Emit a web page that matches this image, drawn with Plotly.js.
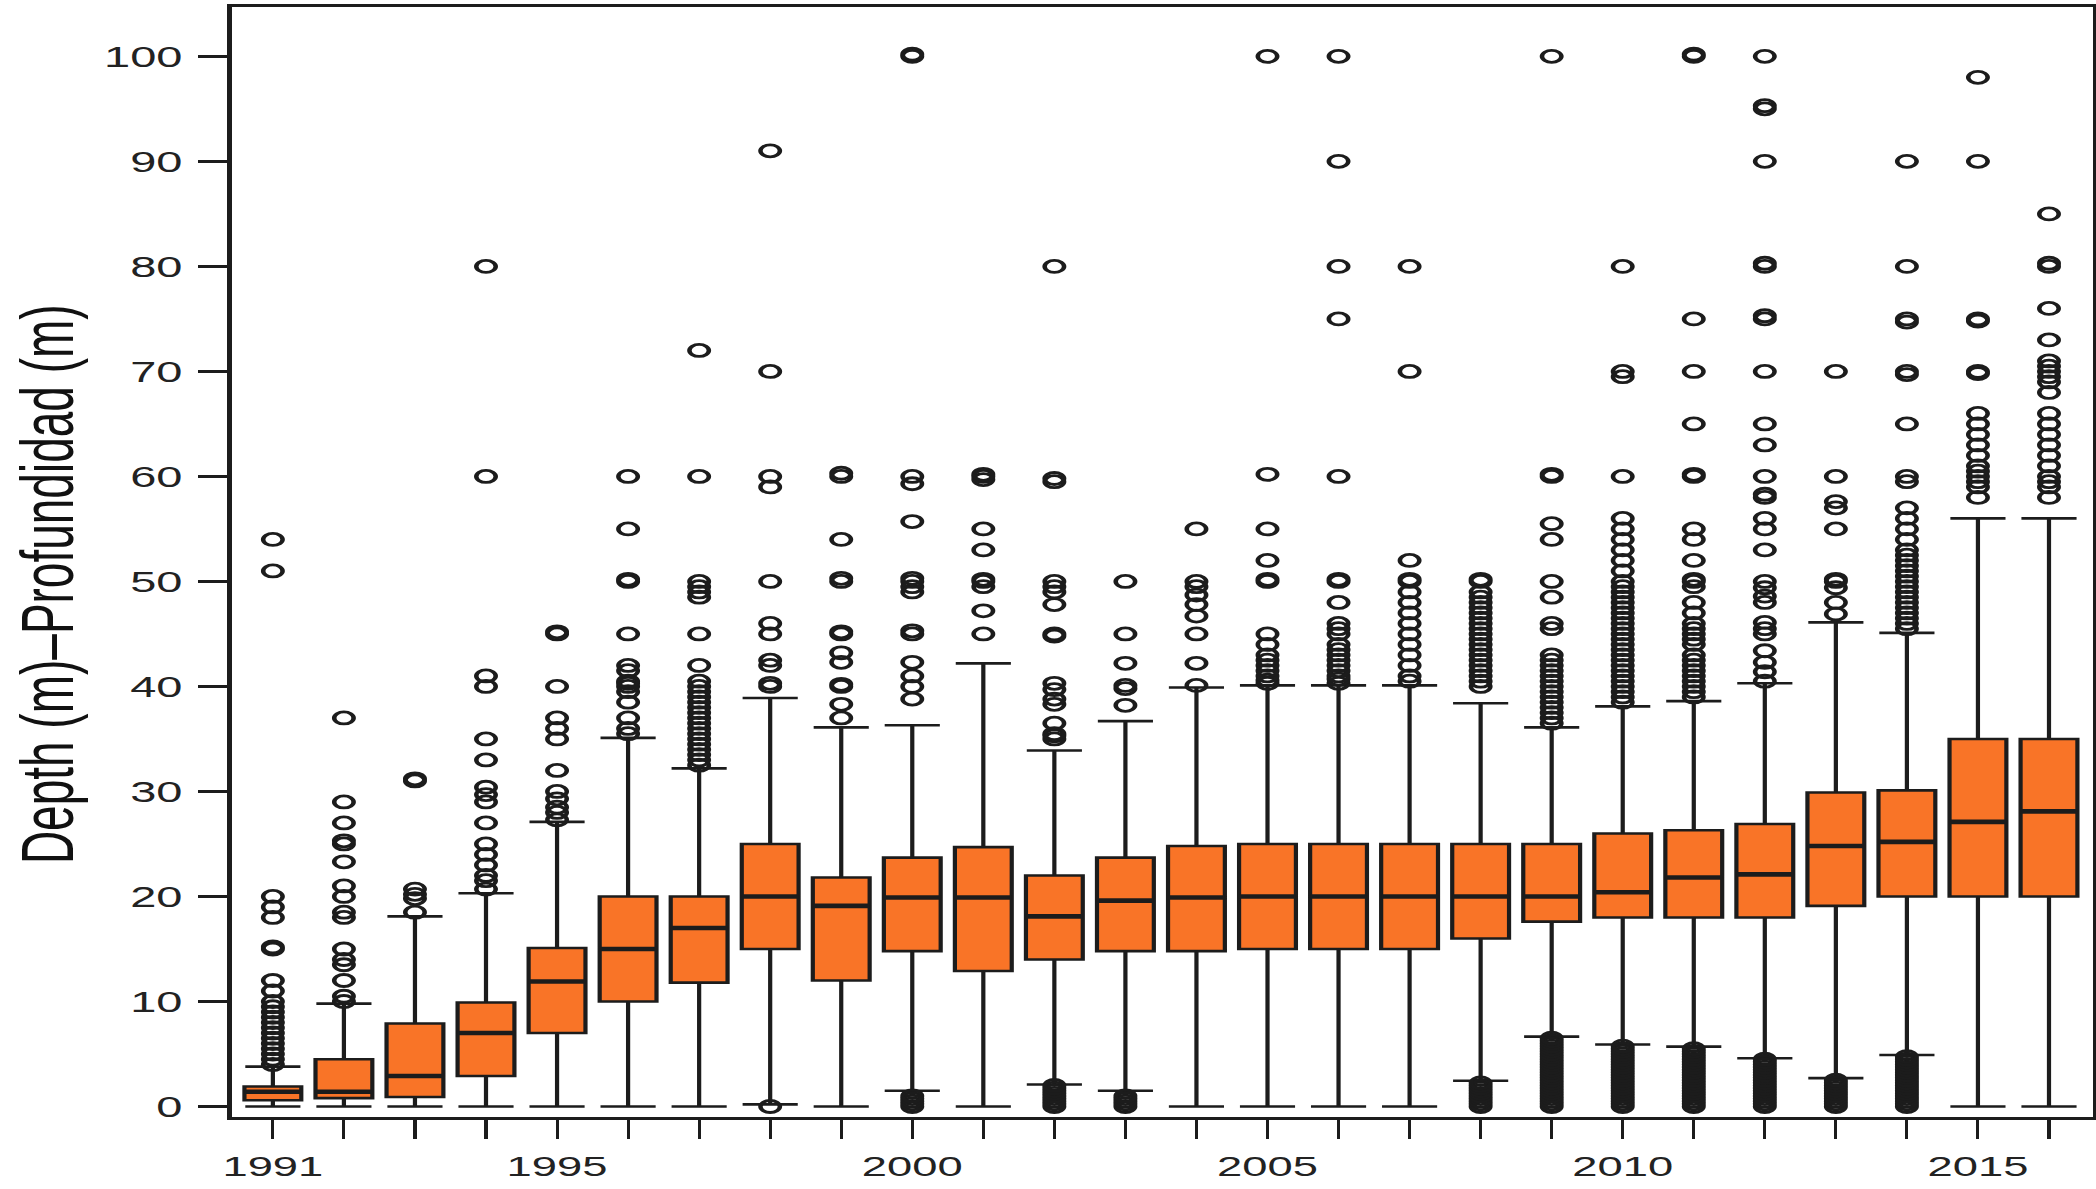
<!DOCTYPE html>
<html>
<head>
<meta charset="utf-8">
<script src="https://cdn.plot.ly/plotly-3.0.1.min.js"></script>
<style>
  html, body { margin: 0; padding: 0; background: #ffffff; overflow: hidden; }
  #wrap { width: 1294px; height: 1189px; transform: scaleX(1.62); transform-origin: 0 0; }
</style>
</head>
<body>
<div id="wrap"><div id="chart"></div></div>
<script>
// ---------------- data ----------------
const years = [1991,1992,1993,1994,1995,1996,1997,1998,1999,2000,2001,2002,2003,2004,2005,2006,2007,2008,2009,2010,2011,2012,2013,2014,2015,2016];
const tickLabels = ["1991","","","","1995","","","","","2000","","","","","2005","","","","","2010","","","","","2015",""];
const yTicks = [0,10,20,30,40,50,60,70,80,90,100];

const q1 =         [0.6, 0.8, 0.9, 2.9, 7.0, 10, 11.8, 15, 12, 14.8, 12.9, 14, 14.8, 14.8, 15, 15, 15, 16, 17.6, 18, 18, 18, 19.1, 20, 20, 20];
const medians =    [1.4, 1.4, 2.9, 7.0, 11.9, 15, 17, 20, 19.1, 19.9, 19.9, 18.1, 19.6, 19.9, 20, 20, 20, 20, 20, 20.4, 21.8, 22.1, 24.8, 25.2, 27.1, 28.1];
const q3 =         [1.9, 4.5, 7.9, 9.9, 15.1, 20, 20, 25, 21.8, 23.7, 24.7, 22, 23.7, 24.8, 25, 25, 25, 25, 25, 26, 26.3, 26.9, 29.9, 30.1, 35, 35];
const lowerFence = [0, 0, 0, 0, 0, 0, 0, 0.2, 0, 1.5, 0, 2.1, 1.5, 0, 0, 0, 0, 2.45, 6.65, 5.9, 5.7, 4.6, 2.7, 4.9, 0, 0];
const upperFence = [3.8, 9.8, 18.1, 20.3, 27.1, 35.1, 32.2, 38.9, 36.1, 36.3, 42.2, 33.9, 36.7, 39.9, 40.1, 40.1, 40.1, 38.4, 36.1, 38.1, 38.6, 40.3, 46.1, 45.1, 56, 56];

// outliers per year (same order as years)
const outliers = [
  [4, 4.5, 5, 5.5, 6, 6.5, 7, 7.5, 8, 8.5, 9, 9.5, 10, 11, 12, 15, 15.2, 18, 19, 20, 51, 54],
  [10, 10.5, 12, 13.5, 14, 15, 18, 18.5, 20, 21, 23.3, 25, 25.3, 27, 29, 37],
  [18.5, 19.8, 20.2, 20.7, 31, 31.2],
  [20.7, 21.5, 22, 23, 24, 25, 27, 29, 29.7, 30.4, 33, 35, 40, 41, 60, 80],
  [27.3, 28, 28.5, 29.3, 30, 32, 35, 36, 37, 40, 45, 45.2],
  [35.5, 36, 37, 38.5, 39.5, 40, 40.3, 40.5, 41.5, 42, 45, 50, 50.2, 55, 60],
  [32.5, 33, 33.5, 34, 34.5, 35, 35.5, 36, 36.5, 37, 37.5, 38, 38.5, 39, 39.5, 40, 40.5, 42, 45, 48.5, 49, 49.5, 50, 60, 72],
  [0, 40, 40.3, 42, 42.5, 45, 46, 50, 59, 60, 70, 91],
  [37, 38.3, 40, 40.2, 42.3, 43.2, 45, 45.2, 50, 50.3, 54, 60, 60.3],
  [0, 0.25, 0.5, 0.75, 1, 38.8, 40, 41, 42.3, 45, 45.3, 49, 49.5, 50, 50.3, 55.7, 59.3, 60, 100, 100.2],
  [45, 47.2, 49.5, 50, 50.2, 53, 55, 59.7, 60, 60.2],
  [0, 0.25, 0.5, 0.75, 1, 1.25, 1.5, 1.75, 2, 35, 35.3, 35.5, 36.5, 38.3, 38.8, 39.7, 40.3, 44.8, 45, 47.8, 49, 49.5, 50, 59.5, 59.8, 80],
  [0, 0.25, 0.5, 0.75, 1, 38.2, 39.8, 40.1, 42.2, 45, 50],
  [40.1, 42.2, 45, 46.7, 47.8, 48.7, 49.5, 50, 55],
  [40.3, 40.6, 41, 41.5, 42, 42.5, 43, 44, 45, 50, 50.2, 52, 55, 60.2, 100],
  [40.3, 40.7, 41, 41.5, 42, 42.5, 43, 43.5, 44, 45, 45.5, 46, 48, 50, 50.2, 60, 75, 80, 90, 100],
  [40.5, 41, 42, 43, 44, 45, 46, 47, 48, 49, 50, 50.2, 52, 70, 80],
  [0, 0.25, 0.5, 0.75, 1, 1.25, 1.5, 1.75, 2, 2.25, 40, 40.5, 41, 41.5, 42, 42.5, 43, 43.5, 44, 44.5, 45, 45.5, 46, 46.5, 47, 47.5, 48, 48.5, 49, 50, 50.2],
  [0, 0.25, 0.5, 0.75, 1, 1.25, 1.5, 1.75, 2, 2.25, 2.5, 2.75, 3, 3.25, 3.5, 3.75, 4, 4.25, 4.5, 4.75, 5, 5.25, 5.5, 5.75, 6, 6.25, 6.5, 36.5, 37, 37.5, 38, 38.5, 39, 39.5, 40, 40.5, 41, 41.5, 42, 42.5, 43, 45.5, 46, 48.5, 50, 54, 55.5, 60, 60.2, 100],
  [0, 0.25, 0.5, 0.75, 1, 1.25, 1.5, 1.75, 2, 2.25, 2.5, 2.75, 3, 3.25, 3.5, 3.75, 4, 4.25, 4.5, 4.75, 5, 5.25, 5.5, 5.75, 38.5, 39, 39.5, 40, 40.5, 41, 41.5, 42, 42.5, 43, 43.5, 44, 44.5, 45, 45.5, 46, 46.5, 47, 47.5, 48, 48.5, 49, 49.5, 50, 51, 52, 53, 54, 55, 56, 60, 69.5, 70, 80],
  [0, 0.25, 0.5, 0.75, 1, 1.25, 1.5, 1.75, 2, 2.25, 2.5, 2.75, 3, 3.25, 3.5, 3.75, 4, 4.25, 4.5, 4.75, 5, 5.25, 5.5, 39, 39.5, 40, 40.5, 41, 41.5, 42, 42.5, 43, 44, 44.5, 45, 45.5, 46, 47, 48, 49.5, 50, 50.2, 52, 54, 55, 60, 60.2, 65, 70, 75, 100, 100.2],
  [0, 0.25, 0.5, 0.75, 1, 1.25, 1.5, 1.75, 2, 2.25, 2.5, 2.75, 3, 3.25, 3.5, 3.75, 4, 4.25, 4.5, 40.5, 41.4, 42.3, 43.4, 45, 45.5, 46.1, 48, 48.6, 49.4, 50, 53, 55, 56, 58, 58.3, 60, 63, 65, 70, 75, 75.3, 80, 80.3, 90, 95, 95.3, 100],
  [0, 0.25, 0.5, 0.75, 1, 1.25, 1.5, 1.75, 2, 2.25, 2.5, 46.9, 48, 49.4, 50, 50.2, 55, 57, 57.6, 60, 70],
  [0, 0.25, 0.5, 0.75, 1, 1.25, 1.5, 1.75, 2, 2.25, 2.5, 2.75, 3, 3.25, 3.5, 3.75, 4, 4.25, 4.5, 4.75, 45.5, 46, 46.5, 47, 47.5, 48, 48.5, 49, 49.5, 50, 50.5, 51, 51.5, 52, 52.5, 53, 54, 55, 56, 57, 59.5, 60, 65, 69.7, 70, 74.7, 75, 80, 90],
  [58, 59, 59.5, 60, 60.5, 61, 62, 63, 64, 65, 66, 69.8, 70, 74.8, 75, 90, 98],
  [58, 59, 59.5, 60, 61, 62, 63, 64, 65, 66, 68, 69, 69.5, 70, 70.5, 71, 73, 76, 80, 80.3, 85]
];

const yTitle = "Depth (m)\u2013Profundidad (m)";

// ---------------- styles ----------------
const ORANGE = "#F97427";
const INK = "#1c1c1c";
const BOXW = 0.8;

// outlier points
const ox = [], oy = [];
years.forEach((yr, i) => outliers[i].forEach(v => { ox.push(yr); oy.push(v); }));

// thick median segments (R draws median with a heavier line)
const mx = [], my = [];
years.forEach((yr, i) => { mx.push(yr - BOXW / 2, yr + BOXW / 2, null); my.push(medians[i], medians[i], null); });

const traces = [
  {
    type: "box",
    x: years,
    q1: q1, median: medians, q3: q3,
    lowerfence: lowerFence, upperfence: upperFence,
    width: BOXW,
    whiskerwidth: 0.97,
    boxpoints: false,
    fillcolor: ORANGE,
    line: { color: INK, width: 2.6 },
    hoverinfo: "skip",
    showlegend: false
  },
  {
    type: "scatter", mode: "lines",
    x: mx, y: my,
    line: { color: INK, width: 4.6 },
    hoverinfo: "skip", showlegend: false
  },
  {
    type: "scatter", mode: "markers",
    x: ox, y: oy,
    marker: { symbol: "circle-open", size: 12, color: INK, line: { color: INK, width: 2.8 } },
    hoverinfo: "skip", showlegend: false
  }
];

const FONT = "Liberation Sans, Arial, Helvetica, sans-serif";

const layout = {
  width: 1294, height: 1189,
  margin: { l: 142.6, r: 1.9, t: 7, b: 72 },
  paper_bgcolor: "#ffffff", plot_bgcolor: "#ffffff",
  font: { family: FONT, color: "#222222", size: 28 },
  showlegend: false,
  xaxis: {
    type: "linear",
    range: [1990.42, 2016.62],
    tickmode: "array", tickvals: years, ticktext: tickLabels,
    ticks: "outside", ticklen: 19, tickwidth: 1.9, tickcolor: INK,
    tickfont: { family: FONT, size: 28, color: "#222222" },
    ticklabelstandoff: 4,
    showline: true, mirror: true, linecolor: INK, linewidth: 2.6,
    showgrid: false, zeroline: false, fixedrange: true
  },
  yaxis: {
    range: [-1.0, 104.7],
    tickmode: "array", tickvals: yTicks, ticktext: yTicks.map(String),
    ticks: "outside", ticklen: 18, tickwidth: 2.6, tickcolor: INK,
    tickfont: { family: FONT, size: 29, color: "#222222" },
    ticklabelstandoff: 4,
    showline: true, mirror: true, linecolor: INK, linewidth: 2.6,
    showgrid: false, zeroline: false, fixedrange: true
  },
  annotations: [{
    text: yTitle,
    xref: "paper", yref: "paper",
    x: 0, y: 0.48,
    xshift: -114,
    xanchor: "center", yanchor: "middle",
    textangle: -90,
    showarrow: false,
    font: { family: FONT, size: 46, color: "#111111" }
  }]
};

Plotly.newPlot("chart", traces, layout, { displayModeBar: false, staticPlot: true });
</script>
</body>
</html>
